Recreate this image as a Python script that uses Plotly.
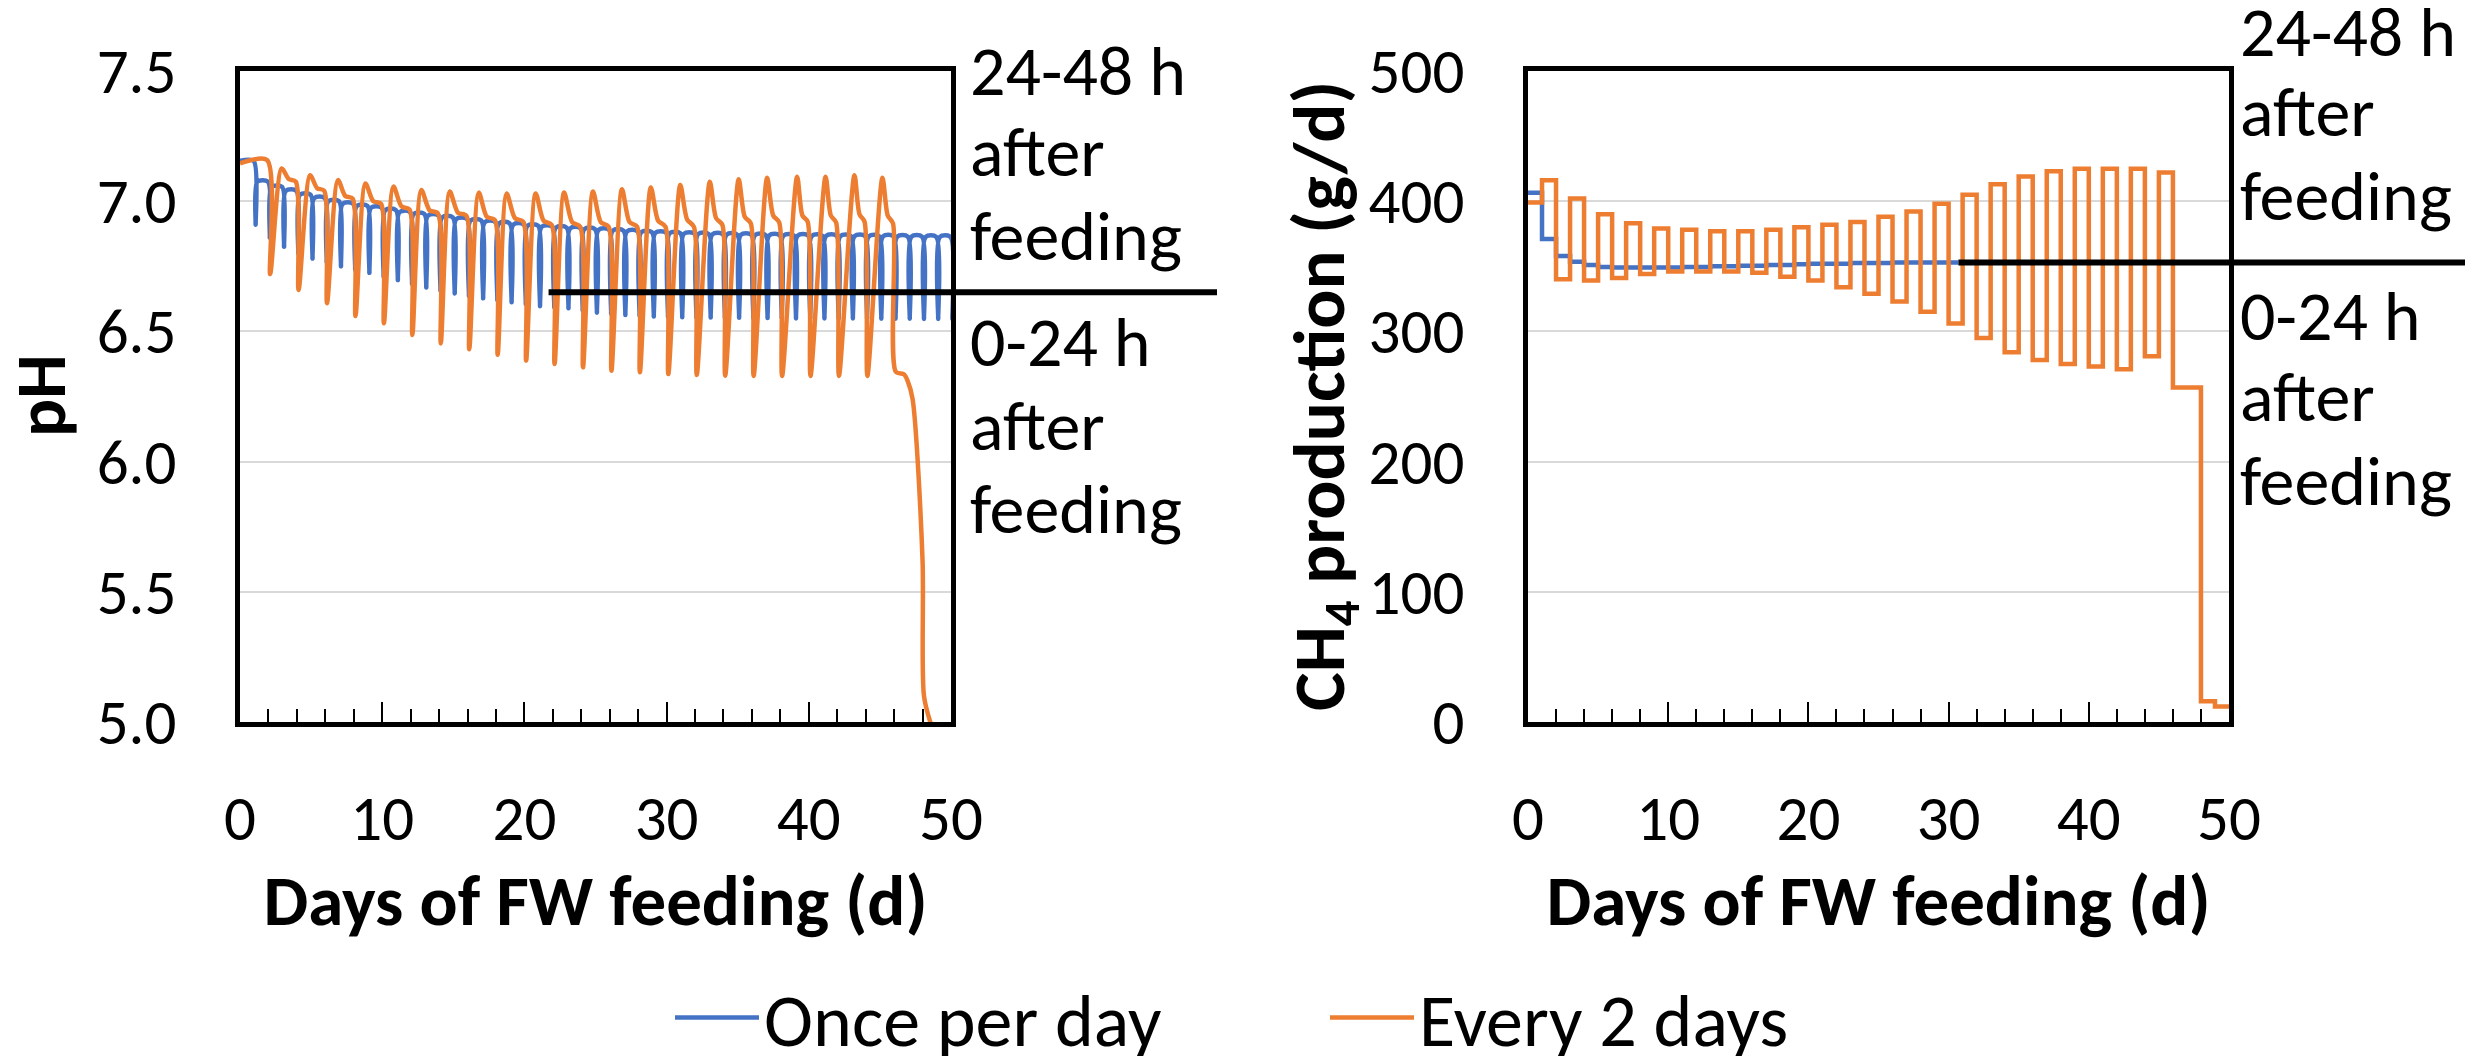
import plotly.graph_objects as go

# ---------------- data ----------------
# Left panel: pH
ONCE_FEED_DAY = list(range(1, 51))
ONCE_PH_START = 7.155
ONCE_PH_LOW = [6.91, 6.86, 6.825, 6.80, 6.78, 6.765, 6.75, 6.737, 6.725, 6.71,
               6.697, 6.683, 6.669, 6.657, 6.646, 6.636, 6.627, 6.62, 6.612, 6.605,
               6.597, 6.593, 6.589, 6.58, 6.572, 6.568, 6.563, 6.56, 6.557, 6.555,
               6.554, 6.553, 6.553, 6.552, 6.552, 6.551, 6.551, 6.551, 6.55, 6.55,
               6.55, 6.55, 6.55, 6.549, 6.549, 6.549, 6.549, 6.548, 6.548, 6.548]
ONCE_PH_HIGH = [7.075, 7.055, 7.04, 7.025, 7.012, 7.0, 6.99, 6.982, 6.975, 6.966,
                6.958, 6.951, 6.945, 6.938, 6.932, 6.926, 6.92, 6.915, 6.91, 6.906,
                6.902, 6.899, 6.896, 6.893, 6.89, 6.887, 6.884, 6.881, 6.879, 6.877,
                6.875, 6.874, 6.873, 6.872, 6.871, 6.870, 6.869, 6.868, 6.868, 6.867,
                6.867, 6.866, 6.866, 6.865, 6.865, 6.864, 6.864, 6.863, 6.863, 6.862]

EVERY2_INIT_DAY = [0.0, 1.9]
EVERY2_INIT_PH = [7.145, 7.158]
EVERY2_FEED_DAY = list(range(2, 48, 2))
EVERY2_PH_LOW = [6.72, 6.659, 6.608, 6.559, 6.531, 6.486, 6.454, 6.431, 6.41, 6.388,
                 6.375, 6.362, 6.349, 6.343, 6.336, 6.333, 6.33, 6.329, 6.329, 6.329,
                 6.329, 6.329, 6.345]
EVERY2_PH_PEAK_DAY = [2.93, 4.93, 6.89, 8.82, 10.79, 12.75, 14.75, 16.79, 18.75, 20.79,
                      22.79, 24.82, 26.86, 28.89, 30.96, 33.04, 35.07, 37.07, 39.18, 41.18,
                      43.21, 45.18]
EVERY2_PH_PEAK = [7.126, 7.10, 7.081, 7.068, 7.056, 7.043, 7.037, 7.033, 7.03, 7.03,
                  7.033, 7.037, 7.046, 7.053, 7.062, 7.075, 7.084, 7.09, 7.094, 7.094,
                  7.10, 7.09]
EVERY2_PH_KNEE = [7.085, 7.05, 7.02, 7.0, 6.98, 6.965, 6.955, 6.94, 6.935, 6.925,
                  6.92, 6.92, 6.92, 6.925, 6.93, 6.935, 6.94, 6.945, 6.945, 6.945,
                  6.95, 6.945]
EVERY2_PH_SHOULDER = [7.075, 7.04, 7.01, 6.99, 6.968, 6.953, 6.944, 6.928, 6.921, 6.909,
                      6.902, 6.902, 6.902, 6.902, 6.902, 6.909, 6.915, 6.918, 6.921, 6.918,
                      6.921, 6.915]
EVERY2_TAIL_DAY = [46.7, 46.95, 47.3, 48.0, 48.1, 48.6]
EVERY2_TAIL_PH = [6.335, 6.31, 6.24, 5.62, 5.1, 4.99]

# Right panel: CH4 production (g/d), one value per day starting at day index
ONCE_CH4 = [406.5, 371, 358, 353.5, 351, 349.5, 349, 349, 349, 349,
            349, 349.5, 349.5, 350, 350, 350.5, 350.5, 351, 351, 351.5,
            352, 352, 352, 352.5, 352.5, 352.5, 353, 353, 353, 353, 353]
ONCE_CH4_END_DAY = 30.7
EVERY2_CH4 = [399, 416, 340, 402, 339, 390, 341, 383, 344, 379,
              346, 378, 346, 377, 346, 377, 345, 378, 342, 380,
              339, 382, 334, 384, 329, 388, 323, 392, 315, 398,
              306, 405, 295, 413, 284, 419, 278, 423, 275, 425,
              273, 425, 271, 425, 281, 422, 257, 257, 16, 12]

# separator lines (0-24 h vs 24-48 h)
SEP_PH_DAY, SEP_PH = 21.7, 6.65
SEP_CH4_DAY, SEP_CH4 = 30.7, 353

X_TITLE = "Days of FW feeding (d)"
Y1_TITLE = "pH"
Y2_TITLE = "CH<sub>4</sub> production (g/d)"
LEG_ONCE = "Once per day"
LEG_EVERY2 = "Every 2 days"
UPPER_LINES = ["24-48 h", "after", "feeding"]
LOWER_LINES = ["0-24 h", "after", "feeding"]

# ---------------- build series ----------------
bx, by = [0.0], [ONCE_PH_START]
prev = ONCE_PH_START
for d, lo, hi in zip(ONCE_FEED_DAY, ONCE_PH_LOW, ONCE_PH_HIGH):
    bx += [d - 0.04, d + 0.1, d + 0.22]
    by += [prev, lo, hi]
    prev = hi

ox, oy = list(EVERY2_INIT_DAY), list(EVERY2_INIT_PH)
for i, f in enumerate(EVERY2_FEED_DAY[:-1]):
    pday = EVERY2_PH_PEAK_DAY[i]
    end = f + 1.92
    ox += [f + 0.12, pday, pday + 0.5 * (end - pday), end]
    oy += [EVERY2_PH_LOW[i], EVERY2_PH_PEAK[i], EVERY2_PH_KNEE[i], EVERY2_PH_SHOULDER[i]]
ox += [EVERY2_FEED_DAY[-1] + 0.12] + EVERY2_TAIL_DAY
oy += [EVERY2_PH_LOW[-1]] + EVERY2_TAIL_PH

cx_once = list(range(len(ONCE_CH4))) + [ONCE_CH4_END_DAY]
cy_once = ONCE_CH4 + [ONCE_CH4[-1]]
cx_e2 = list(range(len(EVERY2_CH4))) + [len(EVERY2_CH4)]
cy_e2 = EVERY2_CH4 + [EVERY2_CH4[-1]]

BLUE = "#4472C4"
ORANGE = "#ED7D31"
FONT = "Calibri, Carlito, Lato, sans-serif"
OFF = 8                      # page body margin
W, H = 2473 - OFF, 1056 - OFF
TICK_SIZE = 63
TITLE_SIZE = 71
ANN_SIZE = 70
LEG_SIZE = 74

def fx(px):
    return (px - OFF) / W

def fy(py):
    return 1 - (py - OFF) / H

fig = go.Figure()
fig.add_trace(go.Scatter(x=bx, y=by, mode="lines", name=LEG_ONCE, legendgroup="a",
                         line=dict(color=BLUE, width=4.5, shape="spline", smoothing=0.8),
                         xaxis="x", yaxis="y"))
fig.add_trace(go.Scatter(x=ox, y=oy, mode="lines", name=LEG_EVERY2, legendgroup="b",
                         line=dict(color=ORANGE, width=4.5, shape="spline", smoothing=0.8),
                         xaxis="x", yaxis="y"))
fig.add_trace(go.Scatter(x=cx_once, y=cy_once, mode="lines", name=LEG_ONCE, legendgroup="a",
                         showlegend=False, line=dict(color=BLUE, width=4.5, shape="hv"),
                         xaxis="x2", yaxis="y2"))
fig.add_trace(go.Scatter(x=cx_e2, y=cy_e2, mode="lines", name=LEG_EVERY2, legendgroup="b",
                         showlegend=False, line=dict(color=ORANGE, width=4.5, shape="hv"),
                         xaxis="x2", yaxis="y2"))

XD1 = [fx(240), fx(951)]
XD2 = [fx(1528), fx(2229)]
YD = [fy(722), fy(71)]

def xaxis_cfg(domain, anchor):
    return dict(domain=domain, anchor=anchor, range=[0, 50], tick0=0, dtick=10,
                ticks="inside", ticklen=20, tickwidth=2, tickcolor="black",
                minor=dict(dtick=2, ticks="inside", ticklen=13, tickwidth=2,
                           tickcolor="black", showgrid=False),
                showline=True, linewidth=5, linecolor="black", mirror=True,
                showgrid=False, zeroline=False, automargin=False,
                tickfont=dict(size=TICK_SIZE, color="black", family=FONT),
                ticklabelstandoff=37,
                title=dict(text="<b>%s</b>" % X_TITLE, standoff=19,
                           font=dict(size=TITLE_SIZE, color="black", family=FONT)))

def yaxis_cfg(domain, anchor, rng, dtick, fmt):
    return dict(domain=domain, anchor=anchor, range=rng, dtick=dtick, tickformat=fmt,
                showgrid=True, gridcolor="#d9d9d9", gridwidth=2, zeroline=False,
                showline=True, linewidth=5, linecolor="black", mirror=True, ticks="",
                automargin=False,
                tickfont=dict(size=TICK_SIZE, color="black", family=FONT),
                ticklabelstandoff=46)

def px_of(day, dom):
    return dom[0] + day / 50.0 * (dom[1] - dom[0])

ann_font = dict(size=ANN_SIZE, color="black", family=FONT)
annotations = [
    dict(text="<b>%s</b>" % Y1_TITLE, x=fx(40), y=fy(396), xref="paper", yref="paper",
         xanchor="center", yanchor="middle", textangle=-90, showarrow=False,
         font=dict(size=TITLE_SIZE, color="black", family=FONT)),
    dict(text="<b>%s</b>" % Y2_TITLE, x=fx(1323), y=fy(396), xref="paper", yref="paper",
         xanchor="center", yanchor="middle", textangle=-90, showarrow=False,
         font=dict(size=73, color="black", family=FONT)),
]
def add_block(lines, x_px, centers_px):
    for txt, cy in zip(lines, centers_px):
        annotations.append(dict(text=txt, x=fx(x_px), y=fy(cy), xref="paper", yref="paper",
                                xanchor="left", yanchor="middle", align="left",
                                showarrow=False, font=ann_font))

add_block(UPPER_LINES, 968, [71, 152, 236])
add_block(LOWER_LINES, 968, [342, 426, 509])
add_block(UPPER_LINES, 2238, [32, 112, 196])
add_block(LOWER_LINES, 2238, [316, 397, 481])

shapes = [
    dict(type="line", xref="paper", yref="y", x0=px_of(SEP_PH_DAY, XD1), x1=fx(1217),
         y0=SEP_PH, y1=SEP_PH, line=dict(color="black", width=6)),
    dict(type="line", xref="paper", yref="y2", x0=px_of(SEP_CH4_DAY, XD2), x1=1.0,
         y0=SEP_CH4, y1=SEP_CH4, line=dict(color="black", width=6)),
]

fig.update_layout(
    width=W, height=H, autosize=False,
    margin=dict(l=0, r=0, t=0, b=0, pad=0, autoexpand=False),
    paper_bgcolor="white", plot_bgcolor="white",
    font=dict(family=FONT, color="black"),
    xaxis=xaxis_cfg(XD1, "y"),
    yaxis=yaxis_cfg(YD, "x", [5, 7.5], 0.5, ".1f"),
    xaxis2=xaxis_cfg(XD2, "y2"),
    yaxis2=yaxis_cfg(YD, "x2", [0, 500], 100, "d"),
    showlegend=True,
    legend=dict(orientation="h", x=fx(670), xanchor="left", y=fy(1018), yanchor="middle",
                font=dict(size=LEG_SIZE, color="black", family=FONT), itemwidth=84,
                entrywidth=556, entrywidthmode="pixels", bgcolor="rgba(0,0,0,0)"),
    annotations=annotations,
    shapes=shapes,
)

fig.write_html("out.html")
